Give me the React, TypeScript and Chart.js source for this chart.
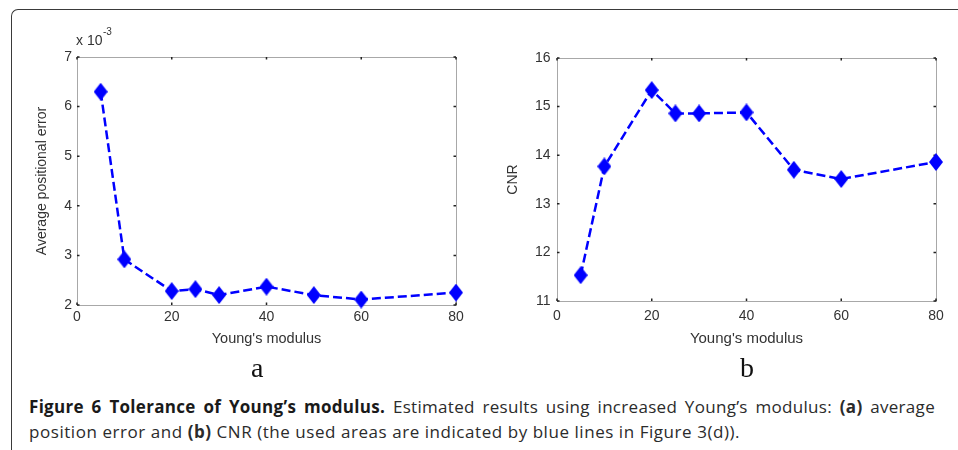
import React, { useEffect, useRef } from 'react';
import { Chart, registerables } from 'chart.js';

Chart.register(...registerables);

// ---------- data ----------
const youngsModulus = [5, 10, 20, 25, 30, 40, 50, 60, 80];
const positionalError = [6.3, 2.92, 2.28, 2.32, 2.2, 2.37, 2.2, 2.11, 2.25];
const cnrValues = [11.53, 13.77, 15.34, 14.86, 14.86, 14.88, 13.7, 13.51, 13.86];
const xTickValues = [0, 20, 40, 60, 80];
const errorTickValues = [2, 3, 4, 5, 6, 7];
const cnrTickValues = [11, 12, 13, 14, 15, 16];
const xAxisTitle = "Young's modulus";
const errorAxisTitle = 'Average positional error';
const cnrAxisTitle = 'CNR';
const errorExponent = '-3';

const SANS = '"Liberation Sans", Arial, Helvetica, sans-serif';
const BLUE = '#0000ff';
const TEXT = '#333333';

function makeDiamond(w: number, h: number, color: string) {
  const c = document.createElement('canvas');
  c.width = w;
  c.height = h;
  const g = c.getContext('2d')!;
  g.fillStyle = color;
  g.beginPath();
  g.moveTo(w / 2, 0);
  g.lineTo(w, h / 2);
  g.lineTo(w / 2, h);
  g.lineTo(0, h / 2);
  g.closePath();
  g.fill();
  return c;
}

const framePlugin = {
  id: 'matlabFrame',
  beforeDatasetsDraw(chart: any) {
    const { ctx, chartArea: a, scales } = chart;
    ctx.save();
    ctx.strokeStyle = '#a8a8a8';
    ctx.lineWidth = 1;
    ctx.strokeRect(Math.round(a.left) + 0.5, Math.round(a.top) + 0.5, Math.round(a.width), Math.round(a.height));
    ctx.strokeStyle = '#222';
    ctx.lineWidth = 1.5;
    const L = 2.5;
    ctx.beginPath();
    scales.x.ticks.forEach((t: any) => {
      const px = scales.x.getPixelForValue(t.value);
      ctx.moveTo(px, a.bottom);
      ctx.lineTo(px, a.bottom - L);
      ctx.moveTo(px, a.top);
      ctx.lineTo(px, a.top + L);
    });
    scales.y.ticks.forEach((t: any) => {
      const py = scales.y.getPixelForValue(t.value);
      ctx.moveTo(a.left, py);
      ctx.lineTo(a.left + L, py);
      ctx.moveTo(a.right, py);
      ctx.lineTo(a.right - L, py);
    });
    ctx.stroke();
    ctx.restore();
  },
  afterDraw(chart: any, _args: any, opts: any) {
    if (!opts || !opts.exponent) return;
    const { ctx, chartArea: a } = chart;
    ctx.save();
    ctx.fillStyle = TEXT;
    ctx.textBaseline = 'alphabetic';
    ctx.textAlign = 'left';
    ctx.font = `14px ${SANS}`;
    const base = 'x 10';
    const x0 = a.left - 1;
    const y0 = a.top - 12;
    ctx.fillText(base, x0, y0);
    const w = ctx.measureText(base).width;
    ctx.font = `10px ${SANS}`;
    ctx.fillText(opts.exponent, x0 + w + 0.5, y0 - 10);
    ctx.restore();
  },
};

type PanelProps = {
  values: number[];
  yTicks: number[];
  yTitle: string;
  exponent?: string;
  left: number;
  top: number;
  width: number;
  height: number;
  padRight: number;
  padTop: number;
  yAxisWidth: number;
  xAxisHeight: number;
  yTitlePad: number;
  xTitlePad: number;
  xTickPad: number;
  yTickPad: number;
  fontSize: number;
  titleSize: number;
  yTitleSize: number;
};

function Panel(p: PanelProps) {
  const ref = useRef<HTMLCanvasElement | null>(null);
  useEffect(() => {
    if (!ref.current) return;
    const diamond = makeDiamond(14, 18, BLUE);
    const chart = new Chart(ref.current, {
      type: 'line',
      data: {
        datasets: [
          {
            data: youngsModulus.map((x, i) => ({ x, y: p.values[i] })),
            borderColor: BLUE,
            backgroundColor: BLUE,
            borderWidth: 2.5,
            borderDash: [9, 4],
            pointStyle: diamond as any,
            pointRadius: 8,
            tension: 0,
            clip: false as any,
          },
        ],
      },
      options: {
        animation: false,
        responsive: false,
        devicePixelRatio: 1,
        layout: { padding: { left: 0, right: p.padRight, top: p.padTop, bottom: 0 } },
        plugins: {
          legend: { display: false },
          tooltip: { enabled: false },
          matlabFrame: { exponent: p.exponent },
        } as any,
        scales: {
          x: {
            type: 'linear',
            min: xTickValues[0],
            max: xTickValues[xTickValues.length - 1],
            afterBuildTicks: (s: any) => {
              s.ticks = xTickValues.map((v) => ({ value: v }));
            },
            afterFit: (s: any) => {
              s.height = p.xAxisHeight;
            },
            grid: { display: false, drawTicks: false },
            border: { display: false },
            ticks: {
              color: TEXT,
              padding: p.xTickPad,
              font: { family: SANS, size: p.fontSize },
              maxRotation: 0,
            },
            title: {
              display: true,
              text: xAxisTitle,
              color: TEXT,
              font: { family: SANS, size: p.titleSize },
              padding: { top: 0, bottom: p.xTitlePad },
            },
          },
          y: {
            type: 'linear',
            min: p.yTicks[0],
            max: p.yTicks[p.yTicks.length - 1],
            afterBuildTicks: (s: any) => {
              s.ticks = p.yTicks.map((v) => ({ value: v }));
            },
            afterFit: (s: any) => {
              s.width = p.yAxisWidth;
            },
            grid: { display: false, drawTicks: false },
            border: { display: false },
            ticks: {
              color: TEXT,
              padding: p.yTickPad,
              font: { family: SANS, size: p.fontSize },
            },
            title: {
              display: true,
              text: p.yTitle,
              color: TEXT,
              font: { family: SANS, size: p.yTitleSize },
              padding: { top: p.yTitlePad, bottom: 0 },
            },
          },
        },
      },
      plugins: [framePlugin],
    });
    return () => chart.destroy();
  }, []);
  return (
    <canvas
      ref={ref}
      width={p.width}
      height={p.height}
      style={{ position: 'absolute', left: p.left, top: p.top, width: p.width, height: p.height }}
    />
  );
}

export default function App() {
  return (
    <div
      style={{
        position: 'absolute',
        left: 0,
        top: 0,
        width: 958,
        height: 450,
        background: '#fff',
        overflow: 'hidden',
      }}
    >
      <div
        style={{
          position: 'absolute',
          left: 11,
          top: 9,
          width: 960,
          height: 460,
          borderTop: '1.5px solid #3a3a3a',
          borderLeft: '1.5px solid #3a3a3a',
          borderTopLeftRadius: 7,
        }}
      />
      <Panel
        values={positionalError}
        yTicks={errorTickValues}
        yTitle={errorAxisTitle}
        exponent={errorExponent}
        left={0}
        top={0}
        width={480}
        height={360}
        padRight={24}
        padTop={57}
        yAxisWidth={77}
        xAxisHeight={55}
        yTitlePad={34}
        xTitlePad={12}
        xTickPad={4}
        yTickPad={5}
        fontSize={14}
        titleSize={14.5}
        yTitleSize={14}
      />
      <Panel
        values={cnrValues}
        yTicks={cnrTickValues}
        yTitle={cnrAxisTitle}
        left={480}
        top={0}
        width={478}
        height={360}
        padRight={22}
        padTop={58}
        yAxisWidth={77}
        xAxisHeight={59}
        yTitlePad={25}
        xTitlePad={12.5}
        xTickPad={7}
        yTickPad={6.5}
        fontSize={14}
        titleSize={15}
        yTitleSize={14}
      />
      <div
        style={{
          position: 'absolute',
          left: 251,
          top: 354,
          fontFamily: '"Liberation Serif", "Times New Roman", serif',
          fontSize: 28,
          lineHeight: '28px',
          color: '#111',
        }}
      >
        a
      </div>
      <div
        style={{
          position: 'absolute',
          left: 740,
          top: 354,
          fontFamily: '"Liberation Serif", "Times New Roman", serif',
          fontSize: 28,
          lineHeight: '28px',
          color: '#111',
        }}
      >
        b
      </div>
      <div
        style={{
          position: 'absolute',
          left: 29,
          top: 394,
          width: 906,
          fontFamily: '"Open Sans", "Noto Sans", sans-serif',
          fontSize: 17,
          lineHeight: '25px',
          color: '#2b2b2b',
          whiteSpace: 'nowrap',
        }}
      >
        <div style={{ letterSpacing: '0.3px', textAlign: 'justify', textAlignLast: 'justify' as any, whiteSpace: 'normal' }}>
          <b style={{ color: '#1a1a1a' }}>Figure 6 Tolerance of Young’s modulus.</b> Estimated results using increased
          Young’s modulus: <b>(a)</b> average
        </div>
        <div style={{ letterSpacing: '0.55px' }}>
          position error and <b>(b)</b> CNR (the used areas are indicated by blue lines in Figure 3(d)).
        </div>
      </div>
    </div>
  );
}
